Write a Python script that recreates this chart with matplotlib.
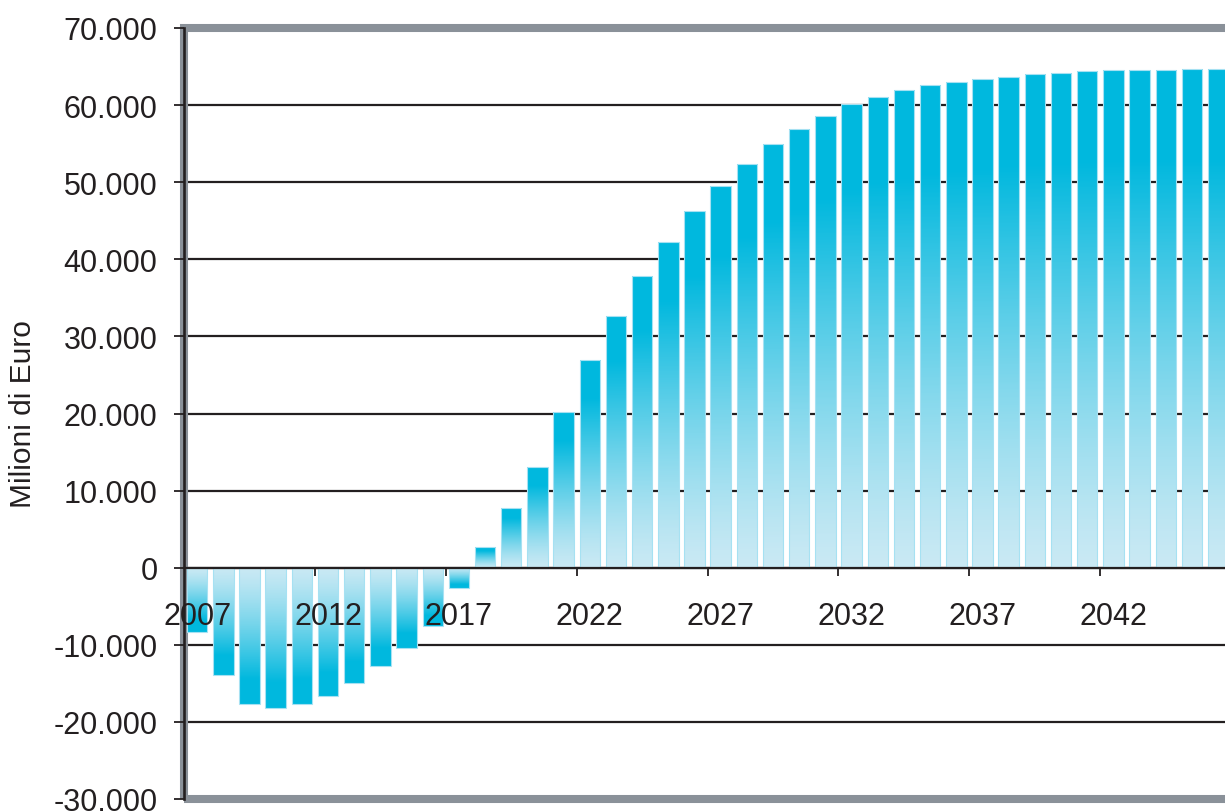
import numpy as np
import matplotlib
matplotlib.use("Agg")
import matplotlib.pyplot as plt
from matplotlib.colors import LinearSegmentedColormap
from matplotlib.patches import Rectangle

# dati (milioni di euro)
anni = list(range(2007, 2047))
valori = [-8300, -13900, -17700, -18200, -17700, -16600, -15000, -12800, -10400, -7500,
          -2650, 2650, 7800, 13000, 20200, 26900, 32700, 37800, 42300, 46200,
          49500, 52400, 54900, 56900, 58600, 60100, 61100, 61900, 62600, 63000,
          63400, 63700, 64000, 64200, 64400, 64500, 64600, 64600, 64700, 64700]
anni_etichette = [2007, 2012, 2017, 2022, 2027, 2032, 2037, 2042]
tacche_y = list(range(-30000, 70001, 10000))

plt.rcParams['font.family'] = ['Liberation Sans', 'DejaVu Sans']
testo = '#231f20'
grigio = '#8a9199'

fig = plt.figure(figsize=(12.25, 8.12), dpi=100)
ax = fig.add_axes([183.5 / 1225, 12 / 812, 1050.3 / 1225, 771 / 812])
ax.set_axisbelow(False)

# sfumatura: chiaro sullo zero, scuro in cima
cmap = LinearSegmentedColormap.from_list('ciano', ['#c9e9f4', '#00b8de'])
t = np.linspace(0, 1, 512)
grad = (np.clip(t / 0.82, 0, 1) ** 1.3)
grad = np.concatenate([grad, np.ones(20)]).reshape(-1, 1)

larghezza = 0.78
for anno, v in zip(anni, valori):
    x0 = anno - larghezza / 2
    x1 = anno + larghezza / 2
    barra = Rectangle((x0, min(0, v)), larghezza, abs(v), fc='none',
                      ec='#a6e1f2', lw=0.8, zorder=2.1)
    ax.add_patch(barra)
    img = ax.imshow(grad, cmap=cmap, vmin=0, vmax=1, origin='lower', aspect='auto',
                    extent=(x0 - 0.1, x1 + 0.1, 0, v * 532 / 512),
                    interpolation='nearest', zorder=2)
    img.set_clip_path(barra)

# griglia
for y in tacche_y[1:-1]:
    ax.axhline(y, color=testo, lw=1.6, zorder=1)

ax.set_xlim(2006.48, 2046.6)
ax.set_ylim(-30000, 70000)

# cornice grigia
ax.add_patch(Rectangle((0, 0), 1, 1, transform=ax.transAxes, fill=False,
                       ec=grigio, lw=5.8, clip_on=False, zorder=1.5))

for s in ['top', 'right']:
    ax.spines[s].set_visible(False)
ax.spines['left'].set_color(testo)
ax.spines['left'].set_linewidth(1.9)
ax.spines['bottom'].set_position(('data', 0))
ax.spines['bottom'].set_color(testo)
ax.spines['bottom'].set_linewidth(1.6)

ax.set_yticks(tacche_y)
ax.set_yticklabels([f"{v:,}".replace(",", ".") for v in tacche_y])
ax.tick_params(axis='y', length=7.2, width=1.3, pad=11.5, labelsize=22,
               colors=testo, direction='out')

ax.set_xticks(anni_etichette)
ax.set_xticklabels([str(a) for a in anni_etichette])
ax.set_xticks([a - 0.5 for a in anni_etichette[1:]], minor=True)
ax.tick_params(axis='x', which='major', length=0, pad=24, labelsize=22, colors=testo)
ax.tick_params(axis='x', which='minor', length=5.8, width=1.3, colors=testo,
               direction='out')

fig.text(23 / 1225, 1 - 414 / 812, 'Milioni di Euro', rotation=90, ha='center',
         va='center', fontsize=21.5, color=testo)

fig.savefig('out.png', dpi=100)
